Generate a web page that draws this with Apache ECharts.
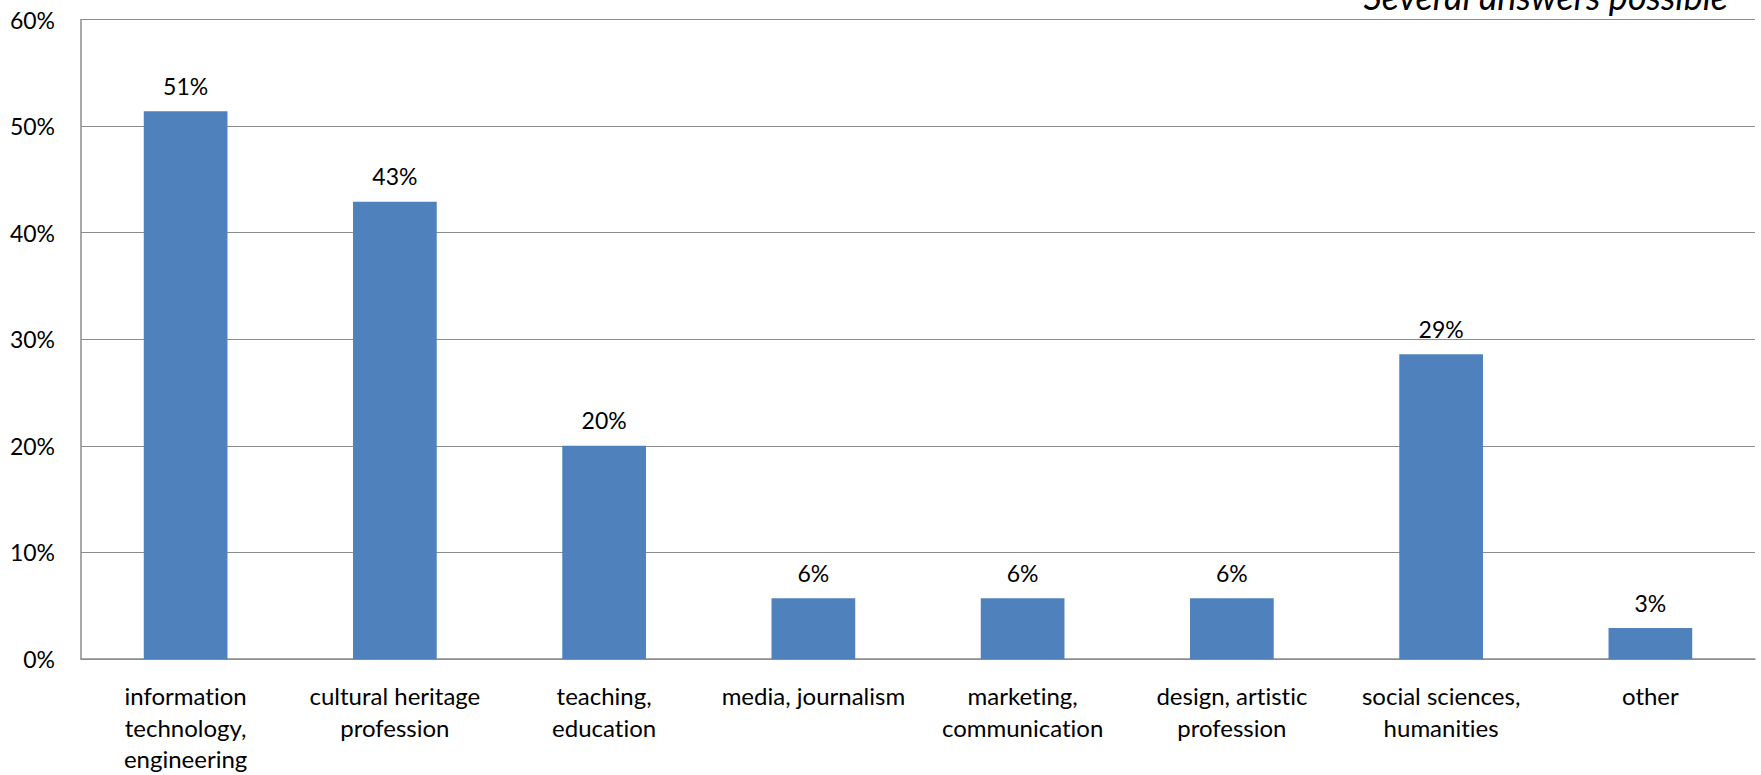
<!DOCTYPE html>
<html>
<head>
<meta charset="utf-8">
<script src="https://cdn.jsdelivr.net/npm/echarts@6/dist/echarts.min.js"></script>
<style>
  html, body { margin: 0; padding: 0; background: #fff; }
  #chart { width: 1761px; height: 775px; }
  #chart text { font-variant-ligatures: none; }
</style>
</head>
<body>
<div id="chart"></div>
<script>
// Field of work of respondents (share in %, several answers possible)
const categories = [
  'information\ntechnology,\nengineering',
  'cultural heritage\nprofession',
  'teaching,\neducation',
  'media, journalism',
  'marketing,\ncommunication',
  'design, artistic\nprofession',
  'social sciences,\nhumanities',
  'other'
];
const shares = [51.4, 42.9, 20.0, 5.7, 5.7, 5.7, 28.6, 2.9];
const yTicks = [0, 10, 20, 30, 40, 50, 60];
const noteText = 'Several answers possible';

const FONT = 'Lato, "Open Sans", sans-serif';
const chart = echarts.init(document.getElementById('chart'), null, { renderer: 'svg' });
chart.setOption({
  animation: false,
  grid: { left: 81, right: 6, top: 19.5, bottom: 116, containLabel: false },
  xAxis: {
    type: 'category',
    data: categories,
    axisLine: { lineStyle: { color: '#8c8c8c', width: 1.5 } },
    axisTick: { show: false },
    axisLabel: {
      interval: 0, color: '#000', fontFamily: FONT, fontSize: 24,
      lineHeight: 31.5, margin: 21
    }
  },
  yAxis: {
    type: 'value',
    min: yTicks[0], max: yTicks[yTicks.length - 1], interval: 10,
    axisLine: { show: true, lineStyle: { color: '#8c8c8c', width: 1.5 } },
    axisTick: { show: false },
    splitLine: { lineStyle: { color: '#8c8c8c', width: 1.2 } },
    axisLabel: {
      color: '#000', fontFamily: FONT, fontSize: 23, margin: 26,
      formatter: v => v + '%'
    }
  },
  series: [{
    type: 'bar',
    data: shares,
    barWidth: '40%',
    itemStyle: { color: '#4F81BD' },
    label: {
      show: true, position: 'top', distance: 14,
      color: '#000', fontFamily: FONT, fontSize: 23,
      formatter: p => Math.round(p.value) + '%'
    }
  }],
  graphic: [{
    type: 'text',
    right: 33, top: -22,
    style: {
      text: noteText, fill: '#000',
      font: 'italic 36px ' + FONT
    }
  }]
});
</script>
</body>
</html>
